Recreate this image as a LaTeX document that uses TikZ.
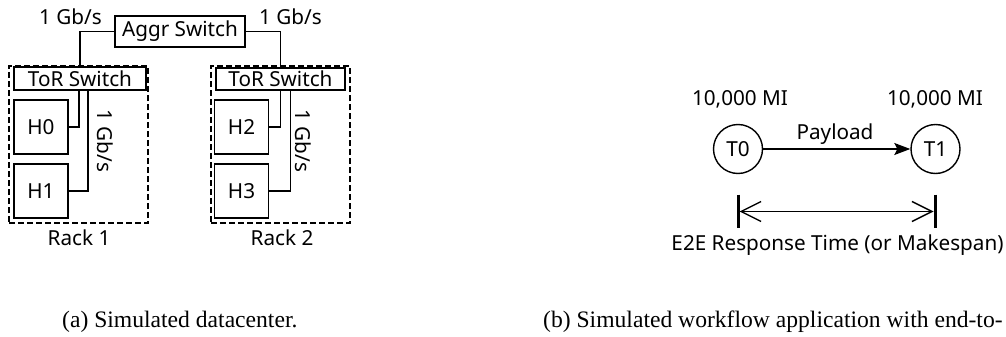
\documentclass[tikz,border=0pt]{standalone}
\usepackage{fontspec}
\setmainfont{Liberation Serif}
\setsansfont{Noto Sans}
\usepackage{tikz}
\usetikzlibrary{
  arrows.meta,  % Stealth、Straight Barb 箭头
  calc,         % 坐标计算
  positioning   % 节点相对定位
}
\tikzset{
  sw box/.style={
    draw,
    line width=1.4pt,
    inner sep=0pt,
    font=\sffamily\fontsize{20.7}{24}\selectfont
  },
  rack box/.style={
    draw,
    line width=1.4pt,
    dash pattern=on 6pt off 3pt,
    inner sep=0pt
  },
  host box/.style={
    sw box,
    minimum width=54pt,
    minimum height=54pt
  },
  link/.style={
    line width=1.4pt
  },
  txt/.style={
    inner sep=0pt,
    font=\sffamily\fontsize{20.7}{24}\selectfont
  },
  task/.style={
    circle,
    draw,
    line width=1.4pt,
    inner sep=0pt,
    minimum size=49pt,
    font=\sffamily\fontsize{20.7}{24}\selectfont
  },
  caption/.style={
    inner sep=0pt,
    font=\rmfamily\fontsize{23.6}{28}\selectfont
  }
}

\begin{document}
\begin{tikzpicture}[x=1pt, y=-1pt, line join=miter]
  \useasboundingbox (0,0) rectangle (1006,337);
  \clip (0,0) rectangle (1006,337);

  % ===================================
  % 左图：数据中心（交换机 + 两个机架）
  % ===================================
  \node[sw box, minimum width=130pt, minimum height=31pt] (aggr) at (180,31.5) {Aggr Switch};

  % 两个机架的虚线外框
  \node[rack box, minimum width=139pt, minimum height=157pt] (rack1) at (78.5,144.5) {};
  \node[rack box, minimum width=139pt, minimum height=157pt] (rack2) at (280.5,144.5) {};

  % 机架顶部的 ToR 交换机
  \node[sw box, minimum width=132pt, minimum height=23pt] (tor1) at (80,78.5) {ToR Switch};
  \node[sw box, minimum width=129pt, minimum height=22pt] (tor2) at (280.5,79) {ToR Switch};

  % 主机 H0 ~ H3
  \foreach \name/\x/\y in {h0/41/127, h1/41/191, h2/241.5/127, h3/241.5/191} {
    \node[host box] (\name) at (\x,\y) {};
  }
  \node[txt] at (h0) {H0};
  \node[txt] at (h1) {H1};
  \node[txt] at (h2) {H2};
  \node[txt] at (h3) {H3};

  % 链路：聚合交换机 -> ToR -> 主机
  \draw[link] (aggr.west) -| (tor1.north);
  \draw[link] (aggr.east) -| (tor2.north);
  \draw[link] ([xshift=-1pt]tor1.south) |- (h0.east);
  \draw[link] ([xshift=8pt]tor1.south) |- (h1.east);
  \draw[link] (tor2.south) |- (h2.east);
  \draw[link] ([xshift=10pt]tor2.south) |- (h3.east);

  % 带宽标注
  \node[txt, anchor=base] (bw1) at (70.5,25) {1 Gb/s};
  \node[txt, anchor=base] (bw2) at (290.5,25) {1 Gb/s};
  \node[txt, rotate=-90] (bw3) at (105,141) {1 Gb/s};
  \node[txt, rotate=-90] (bw4) at (303,141) {1 Gb/s};

  % 机架名称
  \node[txt, anchor=base] (lab1) at (79,245) {Rack 1};
  \node[txt, anchor=base] (lab2) at (282,245) {Rack 2};

  % ===================================
  % 右图：两个任务的工作流
  % ===================================
  \node[task] (t0) at (738,149) {T0};
  \node[task] (t1) at (935.5,149) {T1};

  \node[txt, anchor=base] (mi0) at (740,105) {10,000 MI};
  \node[txt, anchor=base] (mi1) at (935,105) {10,000 MI};

  \draw[link, -{Stealth[length=16pt, width=12pt, inset=3pt]}] (t0) -- (t1);
  \node[txt, anchor=base] (payload) at (835,139) {Payload};

  % 端到端时间的标尺：两端竖线 + 双向开口箭头
  \coordinate (s0) at (738,211.5);
  \coordinate (s1) at (935,211.5);
  \draw[line width=3pt] ($(s0)+(0,-17)$) -- ($(s0)+(0,16)$);
  \draw[line width=3pt] ($(s1)+(0,-17)$) -- ($(s1)+(0,16)$);
  \draw[link, {Straight Barb[length=20pt, width=20pt]}-{Straight Barb[length=20pt, width=20pt]}]
    ([xshift=1.5pt]s0) -- ([xshift=-1.5pt]s1);
  \node[txt, anchor=base] (e2e) at (837.5,250) {E2E Response Time (or Makespan)};

  % ===================================
  % 子图标题
  % ===================================
  \node[caption, anchor=base west] (cap a) at (62,327) {(a) Simulated datacenter.};
  \node[caption, anchor=base west] (cap b) at (543,327) {(b) Simulated workflow application with end-to-};

\end{tikzpicture}
\end{document}
